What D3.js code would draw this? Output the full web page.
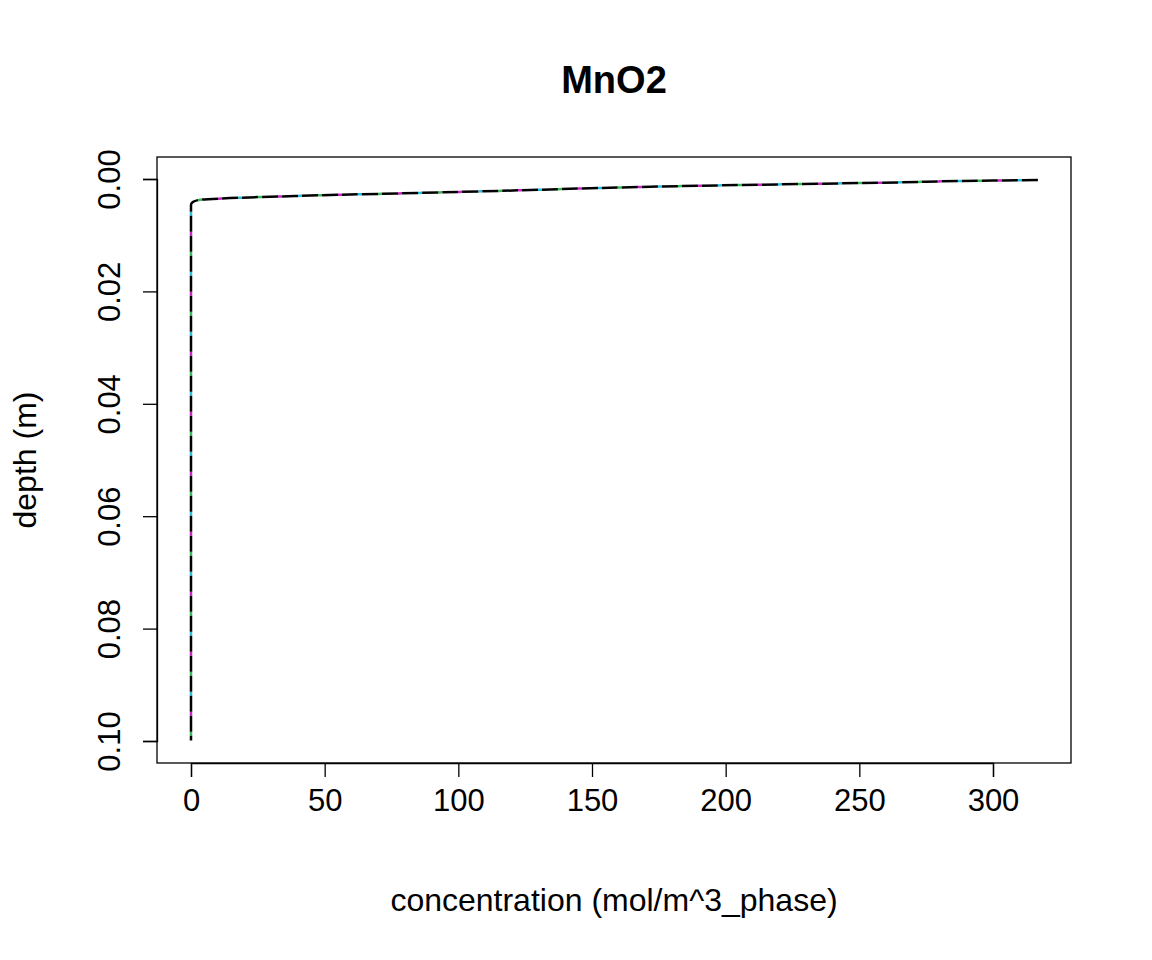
<html>
<head>
<meta charset="utf-8" />
<script src="https://d3js.org/d3.v7.min.js"></script>
<style>
  body { margin: 0; background: white; }
  text { font-family: "Liberation Sans", Arial, sans-serif; }
</style>
</head>
<body>
<svg id="chart" width="1152" height="960"></svg>
<script>
  // profile values (concentration, depth)
  const conc = [316.8, 300, 265, 190, 100.6, 40.8, 14.6, 3.4, 0.7, 0, 0, 0];
  const depth = [0.0002, 0.00027, 0.0006, 0.0012, 0.0023, 0.003, 0.0034, 0.0037, 0.0041, 0.0046, 0.05, 0.0999];
  const xTicks = [0, 50, 100, 150, 200, 250, 300];
  const yTicks = [0, 0.02, 0.04, 0.06, 0.08, 0.1];
  const seriesColors = ["#22c0e0", "#cc22cc", "#33bb55"];

  const svg = d3.select("svg#chart");
  const box = { left: 157, right: 1071, top: 157, bottom: 763 };

  const x = d3.scaleLinear().domain([0, 300]).range([191, 993]);
  const y = d3.scaleLinear().domain([0, 0.1]).range([179, 741]);

  const pts = conc.map((c, i) => [c, depth[i]]);
  const line = d3.line().x(d => x(d[0])).y(d => y(d[1])).curve(d3.curveMonotoneY);

  // coloured series show through the gaps of the black dashed one
  const offsets = [44, 24, 4];
  seriesColors.forEach((c, i) => {
    svg.append("path").datum(pts)
      .attr("d", line).attr("fill", "none")
      .attr("stroke", c).attr("stroke-width", 2.5)
      .attr("stroke-dasharray", "4,56").attr("stroke-dashoffset", offsets[i]);
  });
  svg.append("path").datum(pts)
    .attr("d", line).attr("fill", "none")
    .attr("stroke", "black").attr("stroke-width", 2.5)
    .attr("stroke-dasharray", "16,4");

  svg.append("rect")
    .attr("x", box.left).attr("y", box.top)
    .attr("width", box.right - box.left).attr("height", box.bottom - box.top)
    .attr("fill", "none").attr("stroke", "black").attr("stroke-width", 1.3);

  const xAxis = svg.append("g")
    .attr("transform", `translate(0,${box.bottom})`)
    .call(d3.axisBottom(x).tickValues(xTicks).tickSize(14).tickPadding(12));
  xAxis.select(".domain").attr("stroke-width", 1.3);
  xAxis.selectAll("line").attr("stroke-width", 1.3);
  xAxis.selectAll("text").attr("font-size", 31).attr("font-family", "Liberation Sans");

  const yAxis = svg.append("g")
    .attr("transform", `translate(${box.left},0)`)
    .call(d3.axisLeft(y).tickValues(yTicks).tickSize(14).tickFormat(d3.format(".2f")));
  yAxis.select(".domain").attr("stroke-width", 1.3);
  yAxis.selectAll("line").attr("stroke-width", 1.3);
  yAxis.selectAll("text")
    .attr("font-size", 31).attr("font-family", "Liberation Sans")
    .attr("text-anchor", "middle").attr("x", null).attr("dy", null)
    .attr("transform", "translate(-45,0) rotate(-90)")
    .attr("dominant-baseline", "middle");

  svg.append("text").attr("x", 614).attr("y", 93)
    .attr("text-anchor", "middle").attr("font-size", 38).attr("font-weight", "bold")
    .text("MnO2");
  svg.append("text").attr("x", 614).attr("y", 911)
    .attr("text-anchor", "middle").attr("font-size", 32)
    .text("concentration (mol/m^3_phase)");
  svg.append("text")
    .attr("transform", "translate(36,460) rotate(-90)")
    .attr("text-anchor", "middle").attr("font-size", 32)
    .text("depth (m)");
</script>
</body>
</html>
